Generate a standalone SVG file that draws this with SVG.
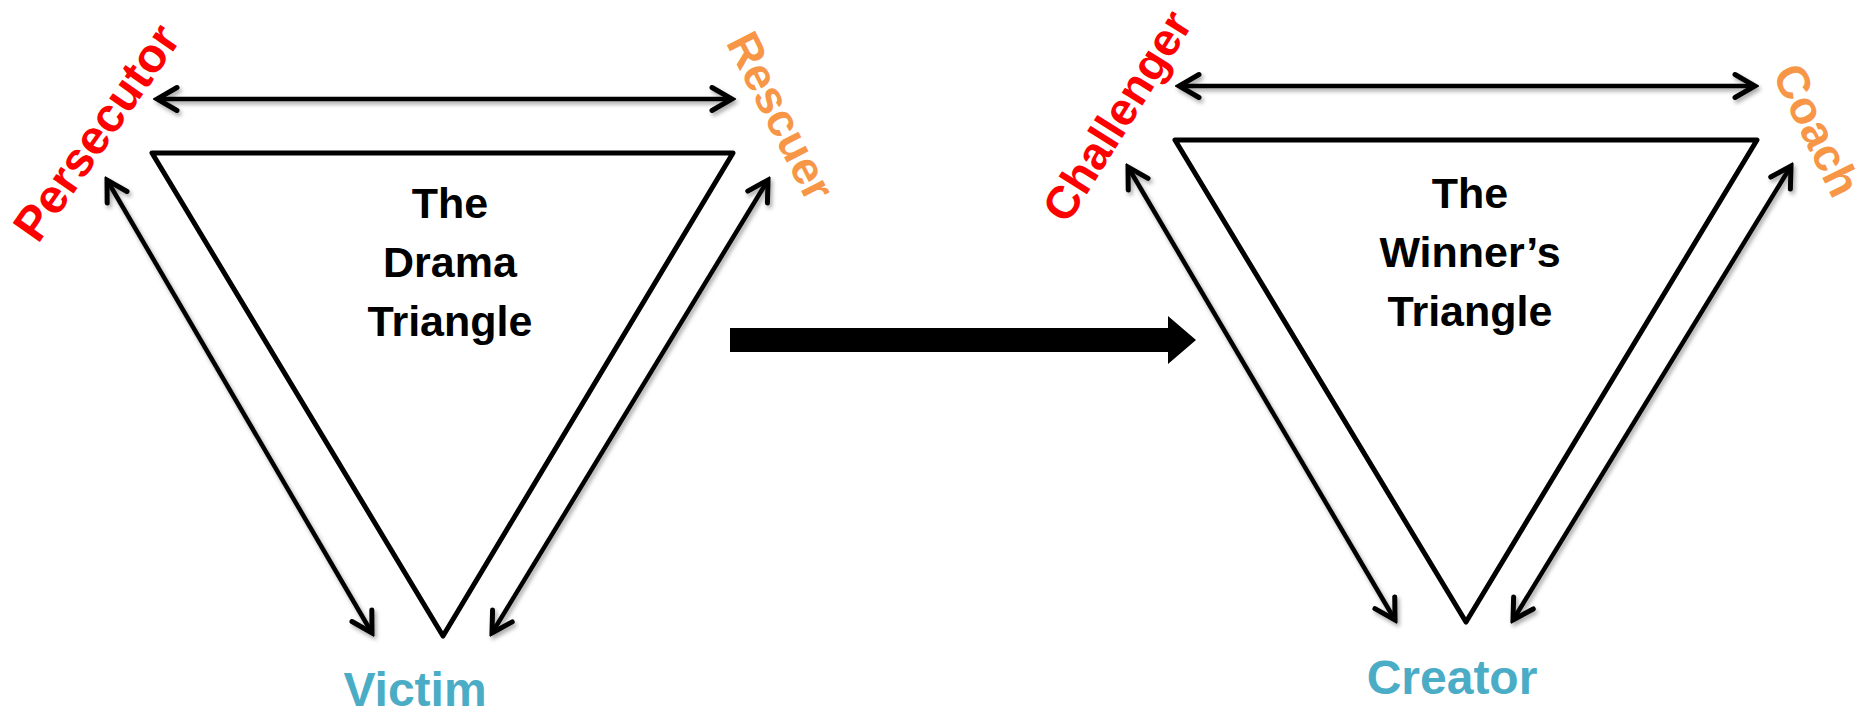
<svg xmlns="http://www.w3.org/2000/svg" width="1872" height="712" viewBox="0 0 1872 712">
  <style>
    text { font-family: "Liberation Sans", Arial, sans-serif; font-weight: bold; }
    .tri { fill: #ffffff; stroke: #000000; stroke-width: 5; stroke-linejoin: round; }
    .title { font-size: 43px; fill: #000000; text-anchor: middle; }
    .role { font-size: 46px; text-anchor: middle; }
    .bottom { font-size: 48px; text-anchor: middle; fill: #4BACC6; }
    .red { fill: #FF0000; }
    .orange { fill: #F79646; }
    .link { stroke: #000000; stroke-width: 4.5; fill: none; marker-start: url(#head); marker-end: url(#head); }
  </style>
  <defs>
    <marker id="head" viewBox="-26 -15 30 30" refX="0" refY="0" markerWidth="30" markerHeight="30" markerUnits="userSpaceOnUse" orient="auto-start-reverse">
      <path d="M-20,-11.5 L0,0 L-20,11.5" fill="none" stroke="#000000" stroke-width="5" stroke-linecap="round" stroke-linejoin="miter"/>
    </marker>
    <filter id="shadow" x="-10%" y="-10%" width="120%" height="120%">
      <feDropShadow dx="2" dy="3" stdDeviation="2" flood-color="#000000" flood-opacity="0.35"/>
    </filter>
  </defs>

  <!-- Drama triangle -->
  <g id="drama-triangle">
    <polygon class="tri" points="152,153 733,153 443,636"/>
    <text class="title" x="450" y="218">The</text>
    <text class="title" x="450" y="277">Drama</text>
    <text class="title" x="450" y="336">Triangle</text>
  </g>
  <g id="persecutor">
    <text class="role red" style="font-size:48px" transform="translate(96,132) rotate(-55)" y="17">Persecutor</text>
  </g>
  <g id="rescuer">
    <text class="role orange" transform="translate(781,116) rotate(63)" y="16">Rescuer</text>
  </g>
  <g id="victim">
    <text class="bottom" x="415" y="706">Victim</text>
  </g>

  <!-- Winner's triangle -->
  <g id="winners-triangle">
    <polygon class="tri" points="1175,140 1757,140 1466,622"/>
    <text class="title" x="1470" y="208">The</text>
    <text class="title" x="1470" y="267">Winner’s</text>
    <text class="title" x="1470" y="326">Triangle</text>
  </g>
  <g id="challenger">
    <text class="role red" transform="translate(1117,116) rotate(-58)" y="16">Challenger</text>
  </g>
  <g id="coach">
    <text class="role orange" transform="translate(1817,130) rotate(64)" y="16">Coach</text>
  </g>
  <g id="creator">
    <text class="bottom" x="1452" y="694">Creator</text>
  </g>

  <!-- transition arrow -->
  <g id="transition">
    <polygon points="730,328 1168,328 1168,316 1196,340 1168,364 1168,352 730,352" fill="#000000"/>
  </g>

  <!-- two-way links between roles -->
  <g id="connectors" filter="url(#shadow)">
    <line class="link" x1="157" y1="99" x2="732" y2="99"/>
    <line class="link" x1="107" y1="180" x2="372" y2="633"/>
    <line class="link" x1="768" y1="180" x2="492" y2="633"/>
    <line class="link" x1="1179" y1="86" x2="1755" y2="86"/>
    <line class="link" x1="1128" y1="167" x2="1395" y2="620"/>
    <line class="link" x1="1791" y1="166" x2="1513" y2="620"/>
  </g>
</svg>
